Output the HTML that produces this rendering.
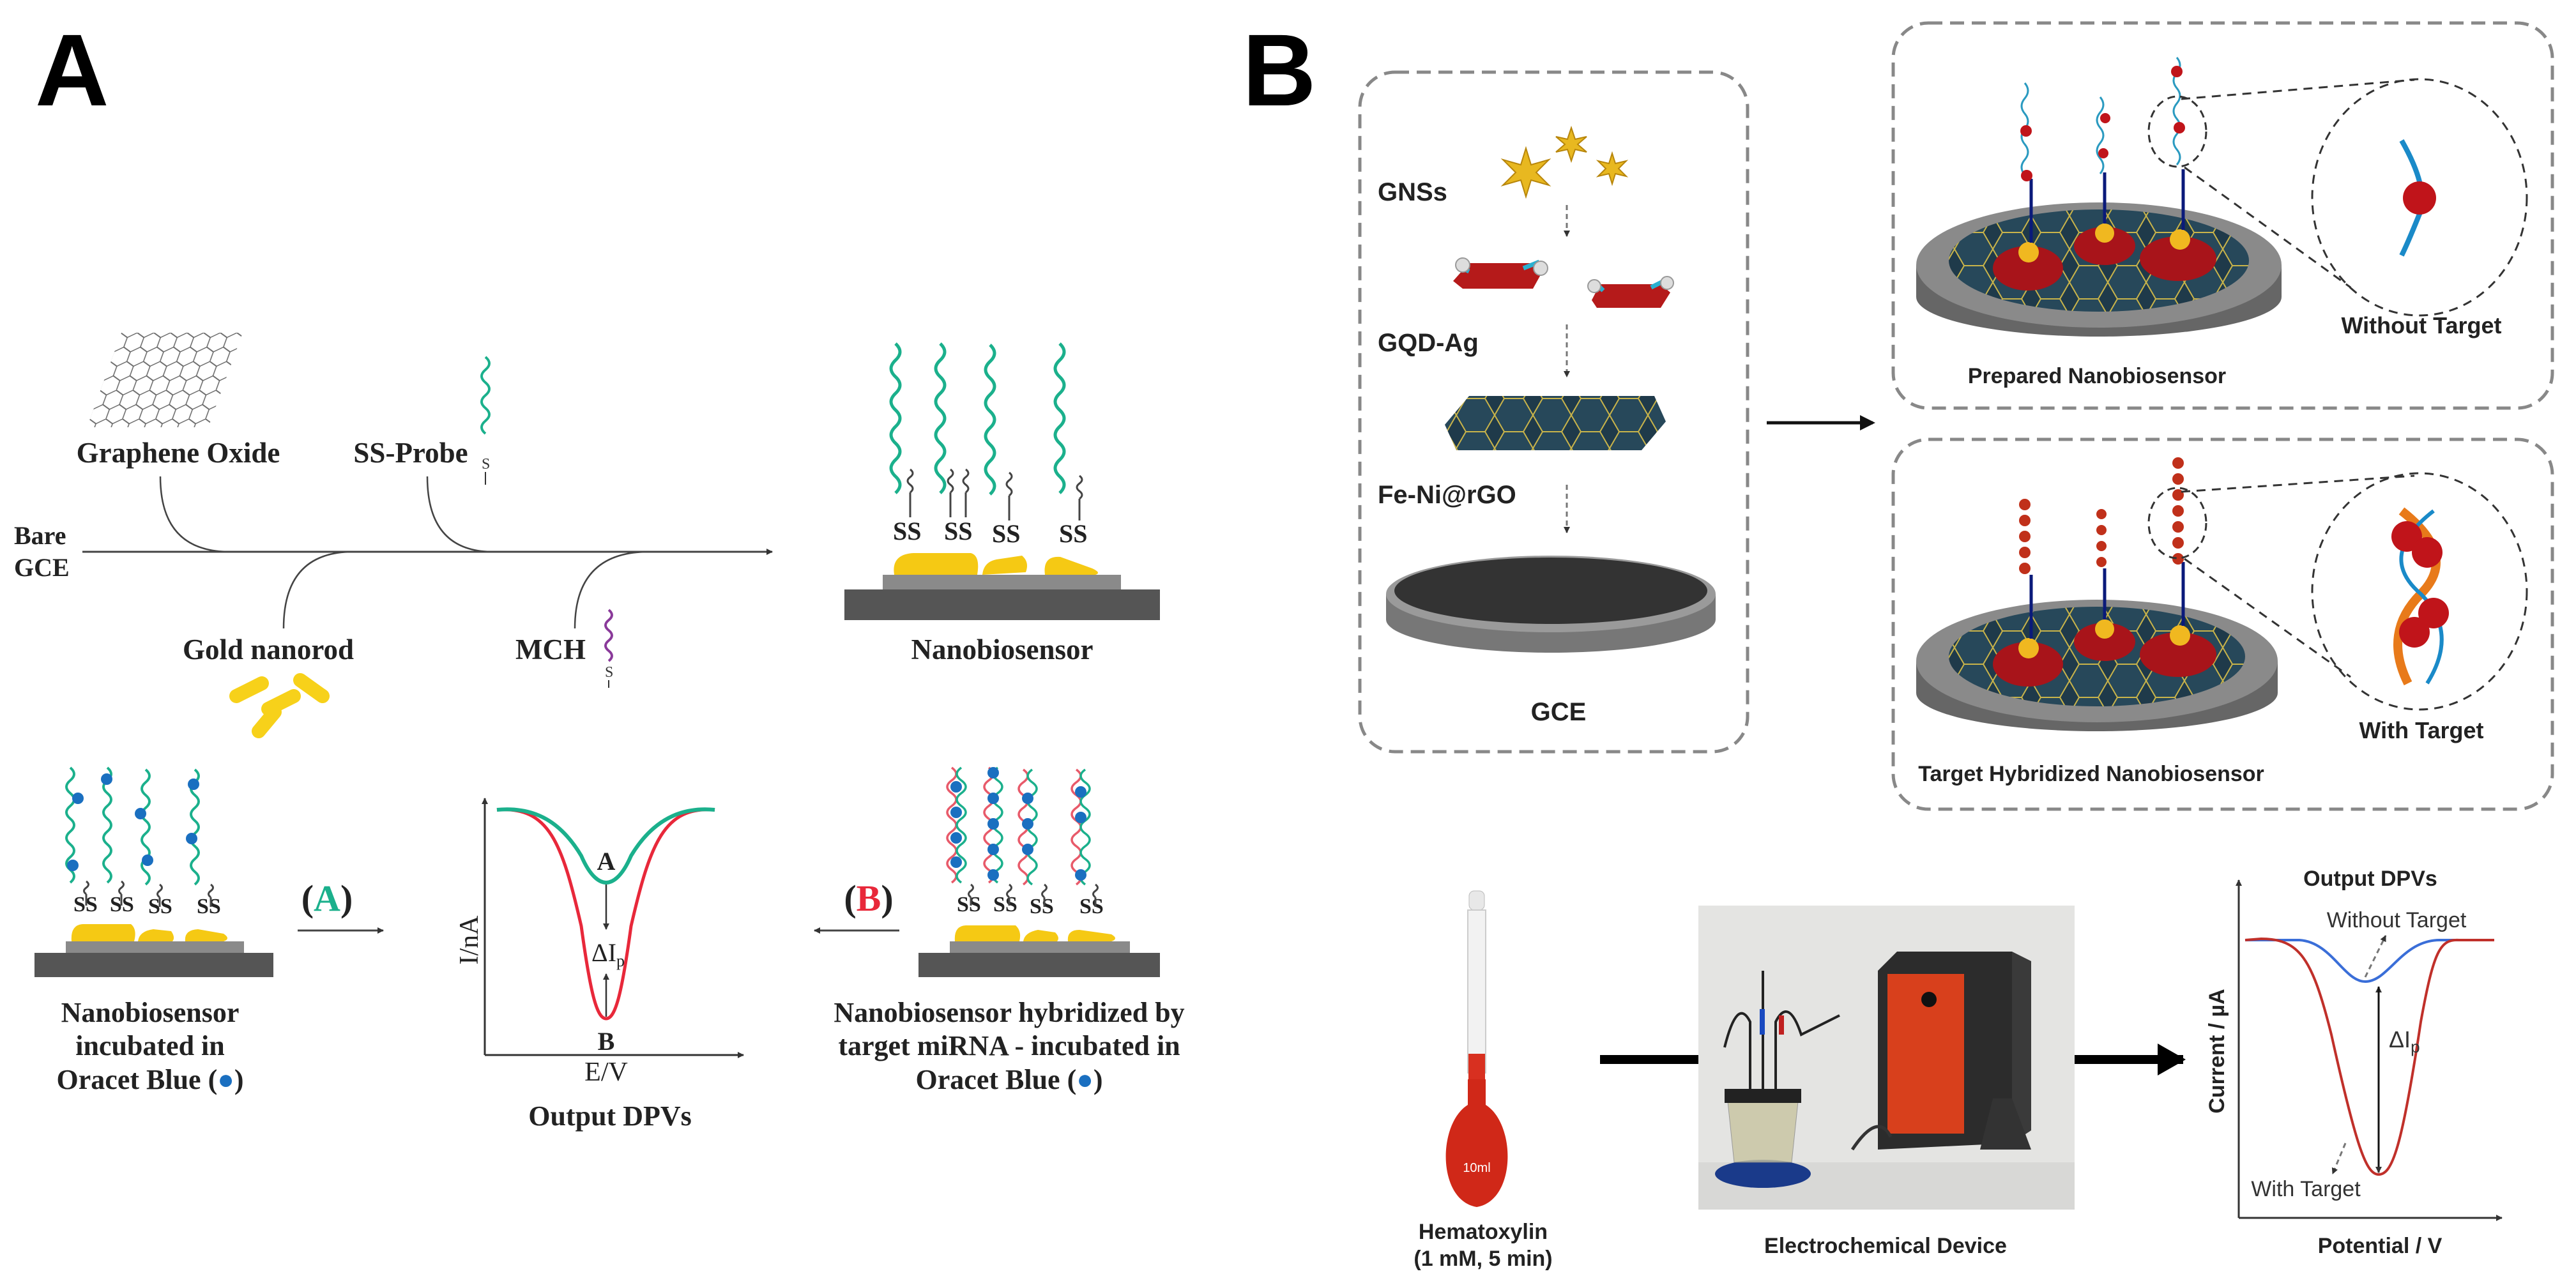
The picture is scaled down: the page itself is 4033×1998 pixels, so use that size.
<!DOCTYPE html>
<html><head><meta charset="utf-8"><style>
html,body{margin:0;padding:0;background:#fff;}
svg{display:block}
.ser{font-family:"Liberation Serif",serif;font-weight:bold;fill:#222}
.san{font-family:"Liberation Sans",sans-serif;font-weight:bold;fill:#222}
</style></head><body>
<svg width="4033" height="1998" viewBox="0 0 4033 1998" xmlns="http://www.w3.org/2000/svg">
<defs>
<marker id="ah" markerWidth="10" markerHeight="10" refX="9" refY="5" orient="auto" markerUnits="userSpaceOnUse"><path d="M0,0 L10,5 L0,10 z" fill="#333"/></marker>
<marker id="ah2" markerWidth="24" markerHeight="24" refX="20" refY="12" orient="auto" markerUnits="userSpaceOnUse"><path d="M0,0 L24,12 L0,24 z" fill="#111"/></marker>
<marker id="ah3" markerWidth="44" markerHeight="50" refX="40" refY="25" orient="auto" markerUnits="userSpaceOnUse"><path d="M0,0 L44,25 L0,50 z" fill="#000"/></marker>
<pattern id="hex" width="26" height="45" patternUnits="userSpaceOnUse"><path d="M13,0 L26,7.5 L26,22.5 L13,30 L0,22.5 L0,7.5 Z M13,30 L13,45" fill="none" stroke="#666" stroke-width="1.6"/></pattern>
<pattern id="hexd" width="60" height="52" patternUnits="userSpaceOnUse"><rect width="60" height="52" fill="#1f3a4a"/><path d="M15,0 L45,0 L60,26 L45,52 L15,52 L0,26 Z" fill="#27485a" stroke="#c9b44a" stroke-width="2"/></pattern>
<path id="gw" d="M0,0 q14,13 0,26 t0,26 t0,26 t0,26 t0,26 t0,26 t0,26 t0,26 t0,26" fill="none" stroke="#1bb08c" stroke-width="5"/>
</defs>

<text x="55" y="165" font-family="Liberation Sans,sans-serif" font-weight="bold" font-size="160" fill="#000">A</text>
<text x="1945" y="165" font-family="Liberation Sans,sans-serif" font-weight="bold" font-size="160" fill="#000">B</text>

<!-- ============ PANEL A ============ -->
<g transform="translate(150,521) skewX(-20)">
<rect x="40" y="0" width="190" height="148" fill="url(#hex)"/>
</g>
<text x="279" y="724" class="ser" font-size="45" text-anchor="middle">Graphene Oxide</text>
<text x="643" y="724" class="ser" font-size="45" text-anchor="middle">SS-Probe</text>
<g transform="translate(760,559)"><path d="M0,0 q12,10 0,20 t0,20 t0,20 t0,20 t0,20 t0,20" fill="none" stroke="#1bb08c" stroke-width="4"/><text x="-6" y="175" font-family="Liberation Serif,serif" font-size="24" fill="#333">S</text><line x1="0" y1="180" x2="0" y2="200" stroke="#333" stroke-width="2"/></g>
<text x="22" y="852" class="ser" font-size="40">Bare</text>
<text x="22" y="902" class="ser" font-size="40">GCE</text>
<line x1="129" y1="864" x2="1209" y2="864" stroke="#444" stroke-width="3" marker-end="url(#ah)"/>
<path d="M251,746 Q251,864 360,864" fill="none" stroke="#444" stroke-width="2.5"/>
<path d="M669,746 Q669,864 772,864" fill="none" stroke="#444" stroke-width="2.5"/>
<path d="M444,984 Q444,864 553,864" fill="none" stroke="#444" stroke-width="2.5"/>
<path d="M900,984 Q900,864 1016,864" fill="none" stroke="#444" stroke-width="2.5"/>
<text x="420" y="1032" class="ser" font-size="45" text-anchor="middle">Gold nanorod</text>
<text x="862" y="1032" class="ser" font-size="45" text-anchor="middle">MCH</text>
<g transform="translate(953,955)"><path d="M0,0 q10,8 0,16 t0,16 t0,16 t0,16 t0,16" fill="none" stroke="#8a3a9a" stroke-width="4"/><text x="-6" y="105" font-family="Liberation Serif,serif" font-size="24" fill="#333">S</text><line x1="0" y1="110" x2="0" y2="122" stroke="#333" stroke-width="2"/></g>
<g stroke="#f7d11a" stroke-width="22" stroke-linecap="round">
<line x1="370" y1="1090" x2="410" y2="1070"/><line x1="420" y1="1110" x2="460" y2="1090"/><line x1="470" y1="1065" x2="505" y2="1090"/><line x1="405" y1="1145" x2="430" y2="1115"/>
</g>

<g>
<rect x="1322" y="923" width="494" height="48" fill="#555"/>
<rect x="1382" y="900" width="373" height="23" fill="#8a8a8a"/>
<path d="M1400,900 Q1395,868 1430,866 L1520,866 Q1535,870 1530,900 Z M1538,900 Q1540,880 1560,876 L1600,870 Q1612,880 1606,896 Z M1636,900 Q1632,870 1660,872 L1710,890 Q1725,897 1715,900 Z" fill="#f5c914"/>
<text x="1398" y="845" class="ser" font-size="40" fill="#111">SS</text><text x="1478" y="845" class="ser" font-size="40" fill="#111">SS</text>
<text x="1553" y="849" class="ser" font-size="40" fill="#111">SS</text><text x="1658" y="849" class="ser" font-size="40" fill="#111">SS</text>
<use href="#gw" x="1402" y="538"/><use href="#gw" x="1472" y="538"/><use href="#gw" x="1550" y="540"/><use href="#gw" x="1659" y="538"/>
<path d="M1425,735 q8,6 0,12 t0,12 t0,12 M1425,771 L1425,810 M1488,735 q8,6 0,12 t0,12 t0,12 M1488,771 L1488,810 M1512,735 q8,6 0,12 t0,12 t0,12 M1512,771 L1512,810 M1580,740 q8,6 0,12 t0,12 t0,12 M1580,776 L1580,815 M1690,745 q8,6 0,12 t0,12 t0,12 M1690,781 L1690,815" fill="none" stroke="#444" stroke-width="3"/>
<text x="1569" y="1032" class="ser" font-size="45" text-anchor="middle">Nanobiosensor</text>
</g>

<g>
<rect x="54" y="1492" width="374" height="38" fill="#555"/>
<rect x="103" y="1474" width="279" height="18" fill="#8a8a8a"/>
<path d="M112,1474 Q110,1448 130,1447 L205,1447 Q215,1455 210,1474 Z M216,1474 Q218,1458 240,1455 L268,1458 Q275,1468 270,1474 Z M290,1474 Q288,1456 310,1455 L350,1462 Q362,1470 350,1474 Z" fill="#f5c914"/>
<text x="115" y="1427" class="ser" font-size="34" fill="#111">SS</text><text x="172" y="1427" class="ser" font-size="34" fill="#111">SS</text><text x="232" y="1430" class="ser" font-size="34" fill="#111">SS</text><text x="308" y="1430" class="ser" font-size="34" fill="#111">SS</text>
<path d="M110,1202 q12,10 0,20 t0,20 t0,20 t0,20 t0,20 t0,20 t0,20 t0,20 t0,20 M168,1202 q12,10 0,20 t0,20 t0,20 t0,20 t0,20 t0,20 t0,20 t0,20 t0,20 M228,1205 q12,10 0,20 t0,20 t0,20 t0,20 t0,20 t0,20 t0,20 t0,20 t0,20 M305,1205 q12,10 0,20 t0,20 t0,20 t0,20 t0,20 t0,20 t0,20 t0,20 t0,20" fill="none" stroke="#1bb08c" stroke-width="4"/>
<g fill="#1a6fc0"><circle cx="122" cy="1250" r="9"/><circle cx="114" cy="1355" r="9"/><circle cx="167" cy="1220" r="9"/><circle cx="220" cy="1274" r="9"/><circle cx="231" cy="1347" r="9"/><circle cx="303" cy="1228" r="9"/><circle cx="300" cy="1313" r="9"/></g>
<path d="M135,1380 q7,5 0,10 t0,10 M135,1400 L135,1418 M190,1380 q7,5 0,10 t0,10 M190,1400 L190,1418 M250,1385 q7,5 0,10 t0,10 M250,1405 L250,1420 M330,1385 q7,5 0,10 t0,10 M330,1405 L330,1420" fill="none" stroke="#444" stroke-width="3"/>
<text x="235" y="1600" class="ser" font-size="44" text-anchor="middle">Nanobiosensor</text>
<text x="235" y="1652" class="ser" font-size="44" text-anchor="middle">incubated in</text>
<text x="235" y="1705" class="ser" font-size="44" text-anchor="middle">Oracet Blue (<tspan fill="#1a6fc0">●</tspan>)</text>
</g>
<text x="512" y="1426" class="ser" font-size="58" text-anchor="middle">(<tspan fill="#1bb08c">A</tspan>)</text>
<line x1="466" y1="1457" x2="600" y2="1457" stroke="#444" stroke-width="3" marker-end="url(#ah)"/>

<line x1="759" y1="1652" x2="759" y2="1250" stroke="#333" stroke-width="3" marker-end="url(#ah)"/>
<line x1="759" y1="1652" x2="1164" y2="1652" stroke="#333" stroke-width="3" marker-end="url(#ah)"/>
<path d="M778,1268 C860,1262 880,1320 910,1450 C925,1560 935,1595 949,1595 C963,1595 973,1560 988,1450 C1018,1320 1040,1262 1119,1268" fill="none" stroke="#e8283a" stroke-width="5"/>
<path d="M778,1268 C840,1262 880,1290 910,1340 C925,1375 940,1382 949,1382 C958,1382 973,1375 988,1340 C1018,1290 1060,1262 1119,1268" fill="none" stroke="#1bb08c" stroke-width="6"/>
<text x="949" y="1362" class="ser" font-size="40" fill="#1bb08c" text-anchor="middle">A</text>
<text x="949" y="1644" class="ser" font-size="40" fill="#e8283a" text-anchor="middle">B</text>
<line x1="949" y1="1385" x2="949" y2="1455" stroke="#333" stroke-width="2.5" marker-end="url(#ah)"/>
<line x1="949" y1="1592" x2="949" y2="1525" stroke="#333" stroke-width="2.5" marker-end="url(#ah)"/>
<text x="952" y="1505" font-family="Liberation Serif,serif" font-size="40" fill="#222" text-anchor="middle">ΔI<tspan font-size="26" dy="8">p</tspan></text>
<text transform="translate(748,1472) rotate(-90)" font-family="Liberation Serif,serif" font-size="42" fill="#222" text-anchor="middle">I/nA</text>
<text x="949" y="1692" font-family="Liberation Serif,serif" font-size="42" fill="#222" text-anchor="middle">E/V</text>
<text x="955" y="1762" class="ser" font-size="44" text-anchor="middle">Output DPVs</text>

<text x="1360" y="1426" class="ser" font-size="58" text-anchor="middle">(<tspan fill="#e8283a">B</tspan>)</text>
<line x1="1408" y1="1457" x2="1275" y2="1457" stroke="#444" stroke-width="3" marker-end="url(#ah)"/>

<g>
<rect x="1438" y="1492" width="378" height="38" fill="#555"/>
<rect x="1487" y="1474" width="282" height="18" fill="#8a8a8a"/>
<path d="M1495,1474 Q1493,1450 1512,1449 L1590,1449 Q1600,1458 1596,1474 Z M1602,1474 Q1604,1460 1625,1456 L1652,1460 Q1660,1468 1655,1474 Z M1672,1474 Q1670,1456 1690,1456 L1740,1463 Q1752,1470 1740,1474 Z" fill="#f5c914"/>
<text x="1498" y="1427" class="ser" font-size="34" fill="#111">SS</text><text x="1555" y="1427" class="ser" font-size="34" fill="#111">SS</text><text x="1612" y="1430" class="ser" font-size="34" fill="#111">SS</text><text x="1690" y="1430" class="ser" font-size="34" fill="#111">SS</text>
<g fill="none" stroke-width="3.5">
<path d="M1490,1202 q14,10 0,20 t0,20 t0,20 t0,20 t0,20 t0,20 t0,20 t0,20 t0,20" stroke="#e85a6a"/><path d="M1505,1202 q-14,10 0,20 t0,20 t0,20 t0,20 t0,20 t0,20 t0,20 t0,20 t0,20" stroke="#1bb08c"/>
<path d="M1548,1202 q14,10 0,20 t0,20 t0,20 t0,20 t0,20 t0,20 t0,20 t0,20 t0,20" stroke="#e85a6a"/><path d="M1562,1202 q-14,10 0,20 t0,20 t0,20 t0,20 t0,20 t0,20 t0,20 t0,20 t0,20" stroke="#1bb08c"/>
<path d="M1602,1205 q14,10 0,20 t0,20 t0,20 t0,20 t0,20 t0,20 t0,20 t0,20 t0,20" stroke="#e85a6a"/><path d="M1616,1205 q-14,10 0,20 t0,20 t0,20 t0,20 t0,20 t0,20 t0,20 t0,20 t0,20" stroke="#1bb08c"/>
<path d="M1685,1205 q14,10 0,20 t0,20 t0,20 t0,20 t0,20 t0,20 t0,20 t0,20 t0,20" stroke="#e85a6a"/><path d="M1699,1205 q-14,10 0,20 t0,20 t0,20 t0,20 t0,20 t0,20 t0,20 t0,20 t0,20" stroke="#1bb08c"/>
</g>
<g fill="#1a6fc0"><circle cx="1497" cy="1232" r="9"/><circle cx="1497" cy="1272" r="9"/><circle cx="1497" cy="1312" r="9"/><circle cx="1497" cy="1350" r="9"/><circle cx="1555" cy="1210" r="9"/><circle cx="1555" cy="1250" r="9"/><circle cx="1555" cy="1290" r="9"/><circle cx="1555" cy="1330" r="9"/><circle cx="1555" cy="1370" r="9"/><circle cx="1609" cy="1250" r="9"/><circle cx="1609" cy="1290" r="9"/><circle cx="1609" cy="1330" r="9"/><circle cx="1692" cy="1240" r="9"/><circle cx="1692" cy="1280" r="9"/><circle cx="1692" cy="1370" r="9"/></g>
<path d="M1520,1385 q7,5 0,10 t0,10 M1520,1405 L1520,1418 M1580,1385 q7,5 0,10 t0,10 M1580,1405 L1580,1418 M1635,1385 q7,5 0,10 t0,10 M1635,1405 L1635,1420 M1715,1385 q7,5 0,10 t0,10 M1715,1405 L1715,1420" fill="none" stroke="#444" stroke-width="3"/>
<text x="1580" y="1600" class="ser" font-size="44" text-anchor="middle">Nanobiosensor hybridized by</text>
<text x="1580" y="1652" class="ser" font-size="44" text-anchor="middle">target miRNA - incubated in</text>
<text x="1580" y="1705" class="ser" font-size="44" text-anchor="middle">Oracet Blue (<tspan fill="#1a6fc0">●</tspan>)</text>
</g>

<!-- ============ PANEL B ============ -->
<g fill="none" stroke="#888" stroke-width="5" stroke-dasharray="22,12">
<rect x="2129" y="113" width="607" height="1064" rx="55"/>
<rect x="2964" y="36" width="1032" height="603" rx="55"/>
<rect x="2964" y="688" width="1032" height="579" rx="55"/>
</g>
<text x="2157" y="314" class="san" font-size="40">GNSs</text>
<text x="2157" y="550" class="san" font-size="40">GQD-Ag</text>
<text x="2157" y="788" class="san" font-size="40">Fe-Ni@rGO</text>
<text x="2440" y="1128" class="san" font-size="40" text-anchor="middle">GCE</text>
<g fill="#e8b820" stroke="#b8860b" stroke-width="2">
<polygon points="2389,232 2397,258 2425,250 2405,270 2425,290 2397,282 2389,308 2381,282 2353,290 2373,270 2353,250 2381,258"/>
<polygon points="2460,200 2466,218 2484,214 2470,226 2484,238 2466,234 2460,252 2454,234 2436,238 2450,226 2436,214 2454,218"/>
<polygon points="2524,240 2529,256 2546,252 2534,264 2546,276 2529,272 2524,288 2519,272 2502,276 2514,264 2502,252 2519,256"/>
</g>
<g stroke="#777" stroke-width="3" stroke-dasharray="8,6"><line x1="2453" y1="321" x2="2453" y2="370" marker-end="url(#ah)"/><line x1="2453" y1="508" x2="2453" y2="590" marker-end="url(#ah)"/><line x1="2453" y1="759" x2="2453" y2="834" marker-end="url(#ah)"/></g>
<g>
<polygon points="2275,440 2300,412 2400,412 2415,425 2400,452 2290,452" fill="#b51a1a"/>
<polygon points="2492,470 2505,445 2600,445 2615,458 2600,482 2500,482" fill="#b51a1a"/>
<path d="M2300,425 L2290,420 M2385,420 L2410,410 M2510,455 L2495,440 M2585,450 L2605,440" stroke="#2ab0d0" stroke-width="7"/>
<g fill="#ddd" stroke="#999" stroke-width="2"><circle cx="2290" cy="415" r="11"/><circle cx="2412" cy="420" r="11"/><circle cx="2496" cy="448" r="10"/><circle cx="2610" cy="443" r="10"/></g>
</g>
<polygon points="2262,665 2300,620 2590,620 2608,660 2570,705 2280,705" fill="url(#hexd)"/>
<ellipse cx="2428" cy="970" rx="258" ry="52" fill="#777"/>
<rect x="2170" y="930" width="516" height="40" fill="#777"/>
<ellipse cx="2428" cy="930" rx="258" ry="60" fill="#9a9a9a"/>
<ellipse cx="2428" cy="925" rx="245" ry="52" fill="#333"/>

<line x1="2766" y1="662" x2="2932" y2="662" stroke="#111" stroke-width="5" marker-end="url(#ah2)"/>

<g>
<ellipse cx="3286" cy="465" rx="286" ry="62" fill="#666"/>
<rect x="3000" y="415" width="572" height="50" fill="#666"/>
<ellipse cx="3286" cy="415" rx="286" ry="98" fill="#8a8a8a"/>
<ellipse cx="3286" cy="408" rx="235" ry="80" fill="url(#hexd)"/>
<g fill="#a8141a"><ellipse cx="3175" cy="420" rx="55" ry="35"/><ellipse cx="3295" cy="385" rx="48" ry="30"/><ellipse cx="3410" cy="405" rx="60" ry="35"/></g>
<g fill="#f0b820"><circle cx="3176" cy="395" r="16"/><circle cx="3295" cy="365" r="15"/><circle cx="3413" cy="375" r="16"/></g>
<g stroke="#0a1a7a" stroke-width="5"><line x1="3180" y1="280" x2="3180" y2="380"/><line x1="3295" y1="270" x2="3295" y2="350"/><line x1="3418" y1="265" x2="3418" y2="360"/></g>
<g fill="none" stroke="#2a9ac0" stroke-width="3"><path d="M3170,130 q10,12 0,24 t0,24 t0,24 t0,24 t0,24 t0,24"/><path d="M3288,152 q10,12 0,24 t0,24 t0,24 t0,24 t0,24"/><path d="M3408,90 q10,12 0,24 t0,24 t0,24 t0,24 t0,24 t0,24 t0,24"/></g>
<g fill="#c0141a"><circle cx="3172" cy="205" r="9"/><circle cx="3173" cy="275" r="9"/><circle cx="3296" cy="185" r="8"/><circle cx="3293" cy="240" r="8"/><circle cx="3408" cy="112" r="9"/><circle cx="3412" cy="200" r="9"/></g>
<ellipse cx="3409" cy="206" rx="45" ry="55" fill="none" stroke="#333" stroke-width="3" stroke-dasharray="12,8"/>
<ellipse cx="3788" cy="309" rx="168" ry="185" fill="none" stroke="#333" stroke-width="3" stroke-dasharray="14,10"/>
<line x1="3415" y1="155" x2="3780" y2="125" stroke="#333" stroke-width="3" stroke-dasharray="14,10"/>
<line x1="3420" y1="262" x2="3680" y2="450" stroke="#333" stroke-width="3" stroke-dasharray="14,10"/>
<path d="M3760,220 Q3800,290 3790,330 Q3770,380 3760,400" fill="none" stroke="#1a8ac8" stroke-width="8"/>
<circle cx="3788" cy="310" r="26" fill="#c0141a"/>
<text x="3791" y="522" class="san" font-size="36" text-anchor="middle">Without Target</text>
<text x="3283" y="600" class="san" font-size="34" text-anchor="middle">Prepared Nanobiosensor</text>
</g>
<g>
<ellipse cx="3283" cy="1085" rx="283" ry="60" fill="#666"/>
<rect x="3000" y="1035" width="566" height="50" fill="#666"/>
<ellipse cx="3283" cy="1035" rx="283" ry="96" fill="#8a8a8a"/>
<ellipse cx="3283" cy="1028" rx="232" ry="78" fill="url(#hexd)"/>
<g fill="#a8141a"><ellipse cx="3175" cy="1040" rx="55" ry="35"/><ellipse cx="3295" cy="1005" rx="48" ry="30"/><ellipse cx="3410" cy="1025" rx="60" ry="35"/></g>
<g fill="#f0b820"><circle cx="3176" cy="1015" r="16"/><circle cx="3295" cy="985" r="15"/><circle cx="3413" cy="995" r="16"/></g>
<g stroke="#0a1a7a" stroke-width="5"><line x1="3180" y1="900" x2="3180" y2="1000"/><line x1="3295" y1="890" x2="3295" y2="970"/><line x1="3418" y1="880" x2="3418" y2="980"/></g>
<g fill="#c0301a"><circle cx="3170" cy="790" r="9"/><circle cx="3170" cy="815" r="9"/><circle cx="3170" cy="840" r="9"/><circle cx="3170" cy="865" r="9"/><circle cx="3170" cy="890" r="9"/><circle cx="3290" cy="805" r="8"/><circle cx="3290" cy="830" r="8"/><circle cx="3290" cy="855" r="8"/><circle cx="3290" cy="880" r="8"/><circle cx="3410" cy="725" r="9"/><circle cx="3410" cy="750" r="9"/><circle cx="3410" cy="775" r="9"/><circle cx="3410" cy="800" r="9"/><circle cx="3410" cy="825" r="9"/><circle cx="3410" cy="850" r="9"/><circle cx="3410" cy="875" r="9"/></g>
<ellipse cx="3409" cy="819" rx="45" ry="55" fill="none" stroke="#333" stroke-width="3" stroke-dasharray="12,8"/>
<ellipse cx="3788" cy="926" rx="168" ry="185" fill="none" stroke="#333" stroke-width="3" stroke-dasharray="14,10"/>
<line x1="3415" y1="770" x2="3780" y2="745" stroke="#333" stroke-width="3" stroke-dasharray="14,10"/>
<line x1="3420" y1="875" x2="3680" y2="1060" stroke="#333" stroke-width="3" stroke-dasharray="14,10"/>
<path d="M3760,800 Q3850,870 3790,930 Q3730,990 3770,1070" fill="none" stroke="#e87a1a" stroke-width="14"/>
<path d="M3810,800 Q3720,870 3790,930 Q3850,990 3800,1070" fill="none" stroke="#1a8ac8" stroke-width="6"/>
<g fill="#c0141a"><circle cx="3768" cy="840" r="24"/><circle cx="3800" cy="865" r="24"/><circle cx="3810" cy="960" r="24"/><circle cx="3780" cy="990" r="24"/></g>
<text x="3791" y="1156" class="san" font-size="36" text-anchor="middle">With Target</text>
<text x="3274" y="1223" class="san" font-size="34" text-anchor="middle">Target Hybridized Nanobiosensor</text>
</g>

<g>
<rect x="2300" y="1395" width="24" height="30" rx="8" fill="#e8e8e8" stroke="#bbb"/>
<rect x="2298" y="1425" width="28" height="255" fill="#f2f2f2" stroke="#ccc" stroke-width="2"/>
<rect x="2299" y="1650" width="26" height="40" fill="#d83020"/>
<path d="M2298,1690 L2298,1730 C2250,1760 2250,1880 2312,1890 C2374,1880 2374,1760 2326,1730 L2326,1690 Z" fill="#d02818"/>
<text x="2312" y="1835" font-family="Liberation Sans,sans-serif" font-size="20" fill="#fff" text-anchor="middle">10ml</text>
<text x="2322" y="1940" class="san" font-size="34" text-anchor="middle">Hematoxylin</text>
<text x="2322" y="1982" class="san" font-size="34" text-anchor="middle">(1 mM, 5 min)</text>
</g>
<line x1="2505" y1="1659" x2="2659" y2="1659" stroke="#000" stroke-width="14"/>
<g>
<rect x="2659" y="1418" width="589" height="476" fill="#e4e4e2"/>
<rect x="2659" y="1820" width="589" height="74" fill="#d8d8d6"/>
<polygon points="2940,1520 2970,1490 3150,1490 3150,1790 2940,1800" fill="#2c2c2c"/>
<polygon points="3150,1490 3180,1505 3180,1770 3150,1790" fill="#3a3a3a"/>
<rect x="2955" y="1525" width="120" height="250" fill="#d8401c"/>
<circle cx="3020" cy="1565" r="12" fill="#111"/>
<polygon points="3100,1800 3120,1720 3150,1720 3180,1800" fill="#333"/>
<ellipse cx="2760" cy="1838" rx="75" ry="22" fill="#1a3a8a"/>
<path d="M2705,1725 L2815,1725 L2805,1820 L2715,1820 Z" fill="#c8c4a0" opacity="0.8" stroke="#888"/>
<rect x="2700" y="1705" width="120" height="22" fill="#222"/>
<g stroke="#222" stroke-width="4" fill="none"><path d="M2740,1705 L2740,1600 Q2720,1560 2700,1640"/><path d="M2760,1705 L2760,1520"/><path d="M2780,1705 L2780,1600 Q2800,1560 2820,1620 L2880,1590"/></g>
<rect x="2755" y="1580" width="8" height="40" fill="#1a4ac0"/><rect x="2785" y="1590" width="8" height="30" fill="#c02020"/>
<path d="M2900,1800 Q2940,1740 2960,1780" stroke="#333" stroke-width="5" fill="none"/>
</g>
<text x="2952" y="1962" class="san" font-size="34" text-anchor="middle">Electrochemical Device</text>
<line x1="3248" y1="1659" x2="3418" y2="1659" stroke="#000" stroke-width="14" marker-end="url(#ah3)"/>
<line x1="3505" y1="1907" x2="3505" y2="1378" stroke="#333" stroke-width="3" marker-end="url(#ah)"/>
<line x1="3505" y1="1907" x2="3917" y2="1907" stroke="#333" stroke-width="3" marker-end="url(#ah)"/>
<text x="3711" y="1387" class="san" font-size="34" text-anchor="middle">Output DPVs</text>
<path d="M3515,1472 L3600,1472 C3650,1475 3670,1537 3703,1537 C3740,1537 3760,1472 3820,1472 L3905,1472" fill="none" stroke="#3a6ed8" stroke-width="4"/>
<path d="M3515,1472 L3540,1470 C3600,1470 3620,1500 3650,1620 C3690,1800 3705,1839 3724,1839 C3745,1839 3760,1800 3790,1600 C3810,1490 3820,1470 3850,1472 L3905,1472" fill="none" stroke="#c0302a" stroke-width="4"/>
<line x1="3724" y1="1836" x2="3724" y2="1545" stroke="#111" stroke-width="3" marker-end="url(#ah)"/>
<line x1="3724" y1="1545" x2="3724" y2="1836" stroke="#111" stroke-width="3" marker-end="url(#ah)"/>
<line x1="3703" y1="1530" x2="3735" y2="1465" stroke="#777" stroke-width="3" stroke-dasharray="8,6" marker-end="url(#ah)"/>
<line x1="3672" y1="1790" x2="3652" y2="1838" stroke="#777" stroke-width="3" stroke-dasharray="8,6" marker-end="url(#ah)"/>
<text x="3752" y="1452" font-family="Liberation Sans,sans-serif" font-size="34" fill="#333" text-anchor="middle">Without Target</text>
<text x="3610" y="1873" font-family="Liberation Sans,sans-serif" font-size="34" fill="#333" text-anchor="middle">With Target</text>
<text x="3740" y="1640" font-family="Liberation Sans,sans-serif" font-size="36" fill="#333">ΔI<tspan font-size="26" dy="8">p</tspan></text>
<text transform="translate(3482,1646) rotate(-90)" class="san" font-size="34" text-anchor="middle">Current / µA</text>
<text x="3726" y="1962" class="san" font-size="34" text-anchor="middle">Potential / V</text>
</svg>
</body></html>
